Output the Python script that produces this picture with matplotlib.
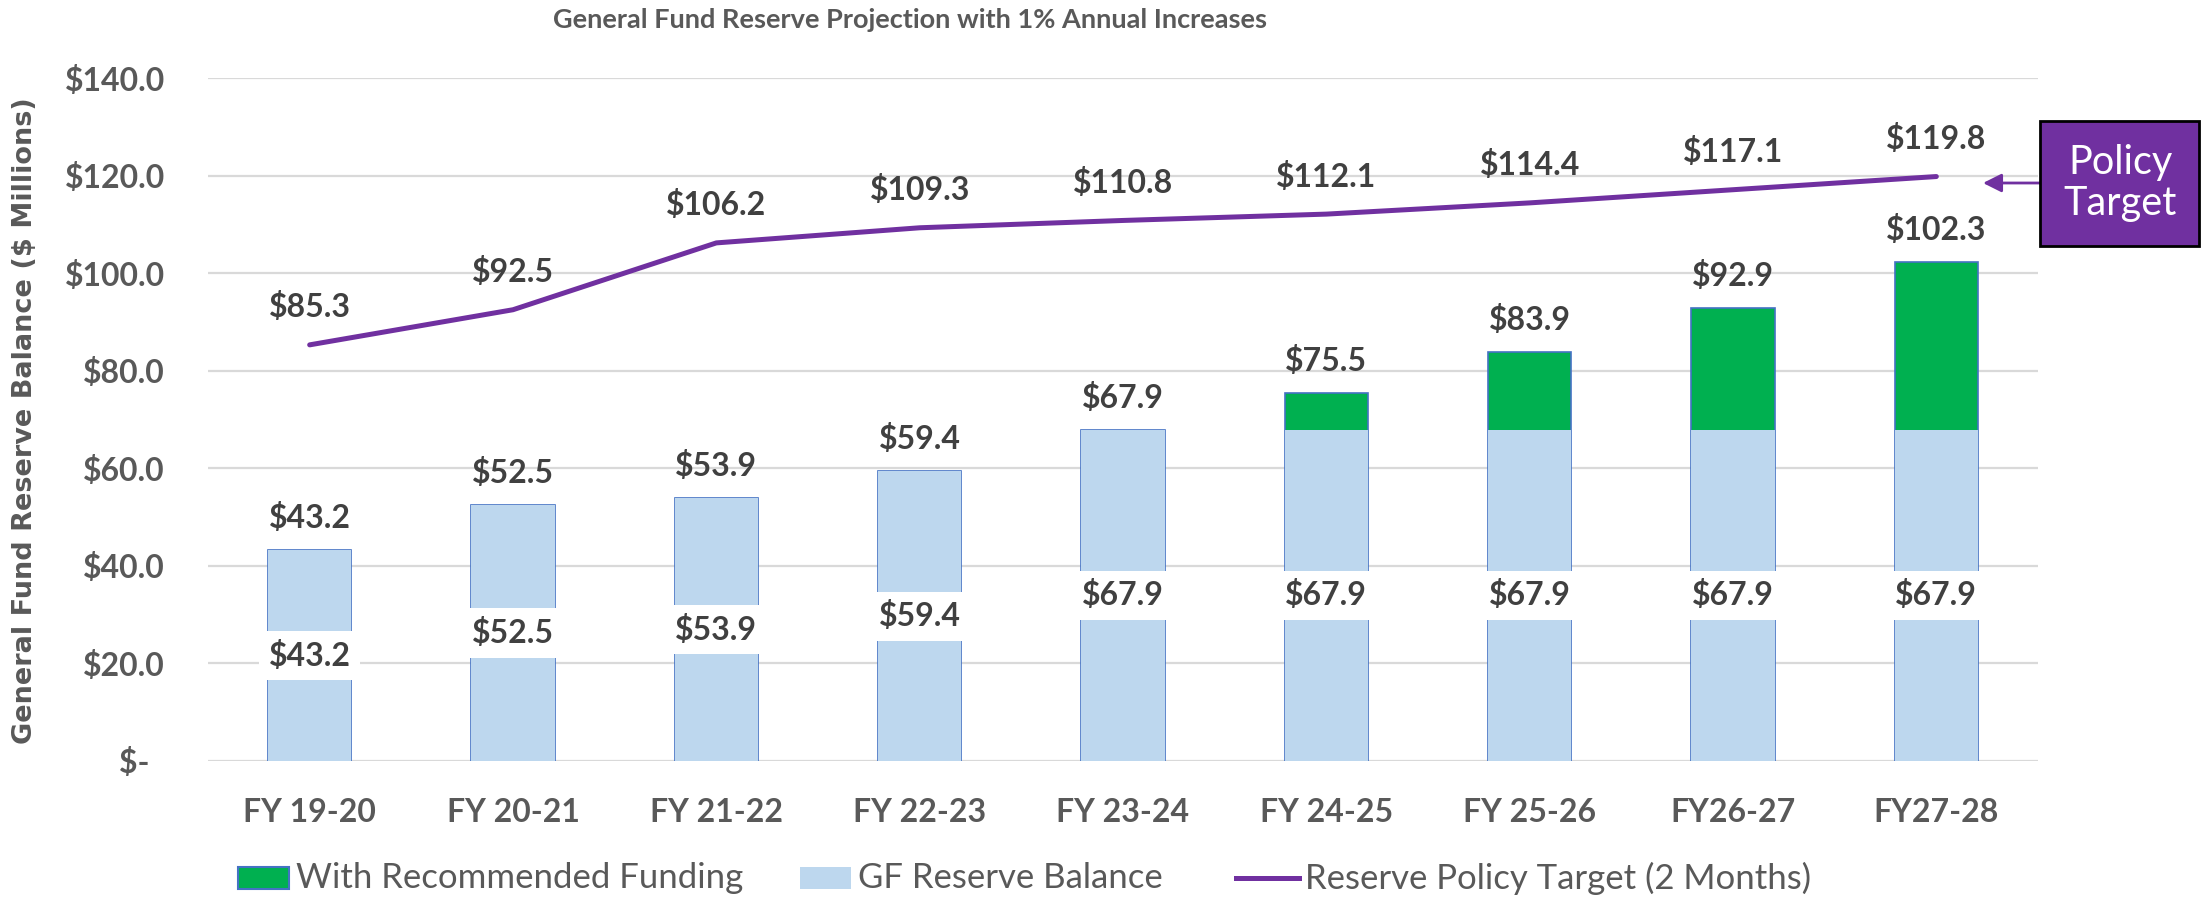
import matplotlib
matplotlib.use('Agg')
import matplotlib.pyplot as plt
from matplotlib.patches import Rectangle
from matplotlib.lines import Line2D
import numpy as np

plt.rcParams['font.family'] = ['Lato', 'DejaVu Sans']

years = ['FY 19-20', 'FY 20-21', 'FY 21-22', 'FY 22-23', 'FY 23-24',
         'FY 24-25', 'FY 25-26', 'FY26-27', 'FY27-28']
gf_balance = [43.2, 52.5, 53.9, 59.4, 67.9, 67.9, 67.9, 67.9, 67.9]
with_funding = [43.2, 52.5, 53.9, 59.4, 67.9, 75.5, 83.9, 92.9, 102.3]
policy_target = [85.3, 92.5, 106.2, 109.3, 110.8, 112.1, 114.4, 117.1, 119.8]
yticks = [0, 20, 40, 60, 80, 100, 120, 140]
ytick_labels = ['$-  ', '$20.0', '$40.0', '$60.0', '$80.0', '$100.0', '$120.0', '$140.0']

GREEN = '#00B050'
LIGHT = '#BDD7EE'
EDGE = '#4472C4'
PURPLE = '#7030A0'
GRID = '#D9D9D9'
TICK = '#595959'
LABEL = '#404040'

W, H = 2202, 901
fig = plt.figure(figsize=(W / 100, H / 100), dpi=100)
ax = fig.add_axes([208 / W, 1 - 761 / H, (2038 - 208) / W, (761 - 78) / H])

x = np.arange(len(years))
ax.bar(x, with_funding, width=0.41, color=GREEN, edgecolor=EDGE, linewidth=1.2, zorder=2)
ax.bar(x, gf_balance, width=0.41, color=LIGHT, linewidth=0, zorder=3)
ax.plot(x, policy_target, color=PURPLE, lw=3.6, zorder=4, solid_capstyle='round')

# labels
for xi, v in zip(x, with_funding):
    ax.annotate(f'${v:.1f}', (xi, v), xytext=(0, 23), textcoords='offset points',
                ha='center', va='center', fontsize=23, fontweight='bold', color=LABEL, zorder=6)
for xi, v in zip(x, gf_balance):
    ax.text(xi, v / 2, f'${v:.1f}', ha='center', va='center', fontsize=23,
            fontweight='bold', color=LABEL, zorder=6,
            bbox=dict(boxstyle='square,pad=0.3', fc='white', ec='none'))
for xi, v in zip(x, policy_target):
    ax.annotate(f'${v:.1f}', (xi, v), xytext=(0, 27), textcoords='offset points',
                ha='center', va='center', fontsize=23, fontweight='bold', color=LABEL, zorder=6)

ax.set_xlim(-0.5, len(years) - 0.5)
ax.set_ylim(0, 140)
ax.set_yticks(yticks)
ax.set_yticklabels(ytick_labels)
ax.set_xticks(x)
ax.set_xticklabels(years)
ax.tick_params(length=0, labelsize=23, labelcolor=TICK)
ax.tick_params(axis='y', pad=31)
ax.tick_params(axis='x', pad=27)
for lab in ax.get_xticklabels() + ax.get_yticklabels():
    lab.set_fontweight('bold')
ax.yaxis.grid(True, color=GRID, lw=1.6)
ax.set_axisbelow(True)
for s in ax.spines.values():
    s.set_visible(False)

fig.text(910 / W, 1 - 20 / H, 'General Fund Reserve Projection with 1% Annual Increases',
         ha='center', va='center', fontsize=19.5, fontweight='bold', color=TICK)
fig.text(25 / W, 1 - 421 / H, 'General Fund Reserve Balance ($ Millions)', rotation=90,
         ha='center', va='center', fontsize=19.5, fontweight='bold', color=TICK,
         family='DejaVu Sans')

# legend
ly = 1 - 878 / H
fig.patches.append(Rectangle((238 / W, 1 - 889 / H), 51 / W, 22 / H, fc=GREEN, ec=EDGE, lw=1.5,
                             transform=fig.transFigure, figure=fig))
fig.text(296 / W, ly, 'With Recommended Funding', va='center', fontsize=25, color=TICK)
fig.patches.append(Rectangle((800 / W, 1 - 889 / H), 51 / W, 22 / H, fc=LIGHT, ec='none',
                             transform=fig.transFigure, figure=fig))
fig.text(858 / W, ly, 'GF Reserve Balance', va='center', fontsize=25, color=TICK)
fig.lines.append(Line2D([1236 / W, 1299 / W], [ly, ly], color=PURPLE, lw=3.6,
                        transform=fig.transFigure, figure=fig))
fig.text(1305 / W, ly, 'Reserve Policy Target (2 Months)', va='center', fontsize=25, color=TICK)

# policy target callout
fig.patches.append(Rectangle((2040 / W, 1 - 246 / H), 159 / W, 125 / H, fc=PURPLE, ec='black',
                             lw=2, transform=fig.transFigure, figure=fig))
fig.text(2120 / W, 1 - 183 / H, 'Policy\nTarget', ha='center', va='center', fontsize=28.5,
         color='white', linespacing=1.15)
ax.annotate('', xy=(1983 / W, 1 - 183 / H), xycoords='figure fraction',
            xytext=(2040 / W, 1 - 183 / H), textcoords='figure fraction',
            arrowprops=dict(arrowstyle='-|>', color=PURPLE, lw=2, mutation_scale=28,
                            shrinkA=0, shrinkB=0))

fig.savefig('out.png', dpi=100)
